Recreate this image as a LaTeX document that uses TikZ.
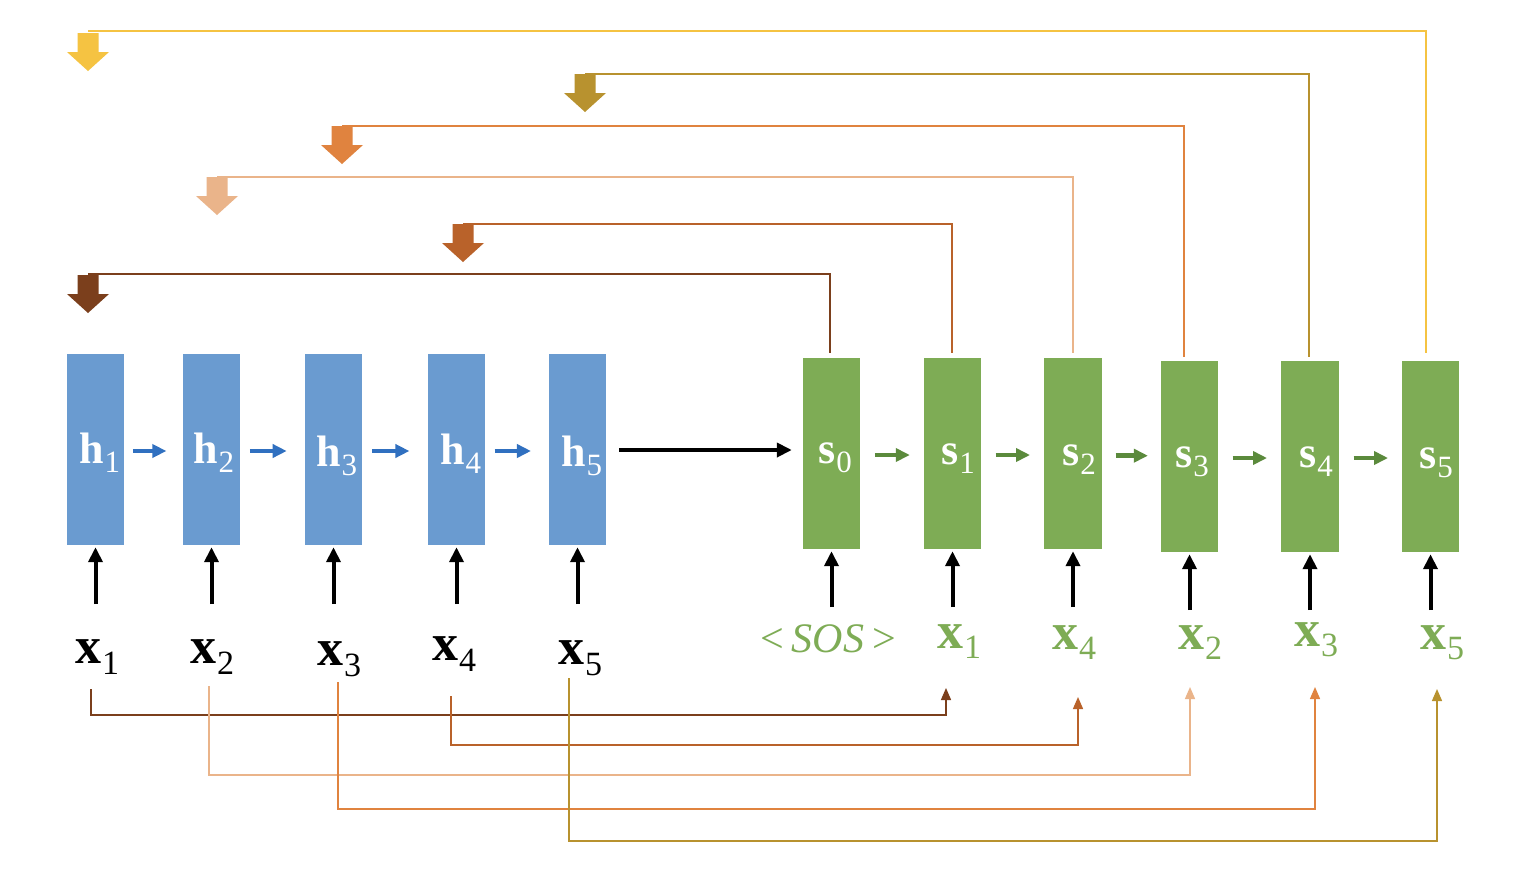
\documentclass[tikz,border=0pt]{standalone}
\usepackage{fontspec}
\setmainfont{Liberation Serif}
\usetikzlibrary{arrows.meta,calc}
\definecolor{hblue}{HTML}{6A9BD0}
\definecolor{harr}{HTML}{3070C0}
\definecolor{sgreen}{HTML}{7EAC55}
\definecolor{sarr}{HTML}{5B8A3C}
\definecolor{cA}{HTML}{7B3F1C}
\definecolor{cB}{HTML}{B9622A}
\definecolor{cC}{HTML}{EAB48A}
\definecolor{cD}{HTML}{E0833F}
\definecolor{cE}{HTML}{B8922F}
\definecolor{cF}{HTML}{F5C342}
\newcommand{\hsub}[2]{{\fontsize{44}{44}\selectfont\bfseries #1}\kern1pt\raisebox{-9pt}{\fontsize{31}{31}\selectfont #2}}
\newcommand{\xsub}[1]{{\fontsize{52}{52}\selectfont\bfseries x}\kern1pt\raisebox{-11pt}{\fontsize{34}{34}\selectfont #1}}
\newcommand{\gsub}[1]{{\fontsize{52}{52}\selectfont\bfseries x}\kern1pt\raisebox{-10pt}{\fontsize{34}{34}\selectfont #1}}
\tikzset{
  hbox/.style={rectangle, fill=hblue, minimum width=57pt, minimum height=191pt, inner sep=0pt},
  sbox/.style={rectangle, fill=sgreen, minimum width=57pt, minimum height=191pt, inner sep=0pt},
  lbl/.style={anchor=base west, inner sep=0pt},
  wlbl/.style={lbl, text=white},
  glbl/.style={lbl, text=sgreen},
  blbl/.style={lbl, text=black},
  harrow/.style={draw=harr, line width=4.5pt, -{Triangle[length=14pt,width=13pt]}},
  sarrow/.style={draw=sarr, line width=4.5pt, -{Triangle[length=14pt,width=13pt]}},
  bigarrow/.style={draw=black, line width=4.5pt, -{Triangle[length=15pt,width=14pt]}},
  uparrow/.style={draw=black, line width=4pt, -{Triangle[length=15pt,width=14pt]}},
  topline/.style={line width=1.3pt},
  botline/.style={line width=1.4pt, -{Triangle[length=12pt,width=10pt]}},
  blockdown/.pic={\path[pic actions] (-10.5,0) -- (10.5,0) -- (10.5,19) -- (21,19) -- (0,38) -- (-21,19) -- (-10.5,19) -- cycle;}
}
\begin{document}
\begin{tikzpicture}[x=1pt,y=-1pt]
\useasboundingbox (0,0) rectangle (1516,884);
\fill[white] (0,0) rectangle (1516,884);

% encoder boxes
\node[hbox] (h1) at (95.5,449.5) {};
\node[hbox] (h2) at (211.5,449.5) {};
\node[hbox] (h3) at (333.5,449.5) {};
\node[hbox] (h4) at (456.5,449.5) {};
\node[hbox] (h5) at (577.5,449.5) {};
% decoder boxes
\node[sbox] (s0) at (831.5,453.5) {};
\node[sbox] (s1) at (952.5,453.5) {};
\node[sbox, minimum width=58pt] (s2) at (1073,453.5) {};
\node[sbox] (s3) at (1189.5,456.5) {};
\node[sbox, minimum width=58pt] (s4) at (1310,456.5) {};
\node[sbox] (s5) at (1430.5,456.5) {};

% box labels
\node[wlbl] (th1) at (79,463) {\hsub{h}{1}};
\node[wlbl] (th2) at (193,463) {\hsub{h}{2}};
\node[wlbl] (th3) at (316,466) {\hsub{h}{3}};
\node[wlbl] (th4) at (440,464) {\hsub{h}{4}};
\node[wlbl] (th5) at (561,466) {\hsub{h}{5}};
\node[wlbl] (ts0) at (818,463) {\hsub{s}{0}};
\node[wlbl] (ts1) at (941,464) {\hsub{s}{1}};
\node[wlbl] (ts2) at (1062,465) {\hsub{s}{2}};
\node[wlbl] (ts3) at (1175,467) {\hsub{s}{3}};
\node[wlbl] (ts4) at (1299,467) {\hsub{s}{4}};
\node[wlbl] (ts5) at (1419,468) {\hsub{s}{5}};

% input labels
\node[blbl] (x1) at (75,663) {\xsub{1}};
\node[blbl] (x2) at (190,663) {\xsub{2}};
\node[blbl] (x3) at (317,665) {\xsub{3}};
\node[blbl] (x4) at (432,660) {\xsub{4}};
\node[blbl] (x5) at (558,664) {\xsub{5}};
\node[anchor=base, inner sep=0pt, text=sgreen] (sos) at (828,652) {\fontsize{42}{42}\selectfont <\hspace{8pt}\textit{SOS}\hspace{8pt}>};
\node[glbl] (g1) at (937,648) {\gsub{1}};
\node[glbl] (g4) at (1052,649) {\gsub{4}};
\node[glbl] (g2) at (1178,649) {\gsub{2}};
\node[glbl] (g3) at (1294,646) {\gsub{3}};
\node[glbl] (g5) at (1420,649) {\gsub{5}};

% recurrent arrows
\foreach \a/\b in {h1/h2,h2/h3,h3/h4,h4/h5}
  \draw[harrow] ($(\a.east)!0.15!(\b.west)+(0,1.5)$) -- ($(\a.east)!0.72!(\b.west)+(0,1.5)$);
\foreach \a/\b in {s0/s1,s1/s2,s2/s3,s3/s4,s4/s5}{
  \path ($(\a.east)!0.23!(\b.west)+(0,1.5)$) coordinate (p) ($(\a.east)!0.78!(\b.west)+(0,1.5)$) coordinate (q);
  \draw[sarrow] (p) -- (p -| q);
}
\draw[bigarrow] ($(h5.east)+(13,0.5)$) -- ($(s0.west)+(-11,-3.5)$);

% input arrows
\foreach \n in {h1,h2,h3,h4,h5}
  \draw[uparrow] ($(\n.south)+(0,59)$) -- ($(\n.south)+(0,2)$);
\foreach \n in {s0,s1,s2,s3,s4,s5}
  \draw[uparrow] ($(\n.south)+(0,58)$) -- ($(\n.south)+(0,2)$);

% top connectors and block arrows
\coordinate (aA) at (88,274);
\coordinate (aB) at (463,224);
\coordinate (aC) at (217,177);
\coordinate (aD) at (342,126);
\coordinate (aE) at (585,74);
\coordinate (aF) at (88,31);
\draw[topline, cA] ($(s0.north)+(-1.5,-5)$) |- (aA);
\draw[topline, cB] ($(s1.north)+(-0.5,-5)$) |- (aB);
\draw[topline, cC] ($(s2.north)+(0,-5)$) |- (aC);
\draw[topline, cD] ($(s3.north)+(-5.5,-4)$) |- (aD);
\draw[topline, cE] ($(s4.north)+(-1,-4)$) |- (aE);
\draw[topline, cF] ($(s5.north)+(-4.5,-8)$) |- (aF);
\pic[fill=cA] at ($(aA)+(0,1)$) {blockdown};
\pic[fill=cB] at (aB) {blockdown};
\pic[fill=cC] at (aC) {blockdown};
\pic[fill=cD] at (aD) {blockdown};
\pic[fill=cE] at (aE) {blockdown};
\pic[fill=cF] at ($(aF)+(0,2)$) {blockdown};

% bottom connectors
\coordinate (bA) at (91,689);   \coordinate (eA) at (946,688);
\coordinate (bB) at (451,696);  \coordinate (eB) at (1078,697);
\coordinate (bC) at (209,686);  \coordinate (eC) at (1190,687);
\coordinate (bD) at (338,682);  \coordinate (eD) at (1315,687);
\coordinate (bE) at (569,678);  \coordinate (eE) at (1437,689);
\draw[botline, cA] (bA) -- ++(0,26) -| (eA);
\draw[botline, cB] (bB) -- ++(0,49) -| (eB);
\draw[botline, cC] (bC) -- ++(0,89) -| (eC);
\draw[botline, cD] (bD) -- ++(0,127) -| (eD);
\draw[botline, cE] (bE) -- ++(0,163) -| (eE);
\end{tikzpicture}
\end{document}
